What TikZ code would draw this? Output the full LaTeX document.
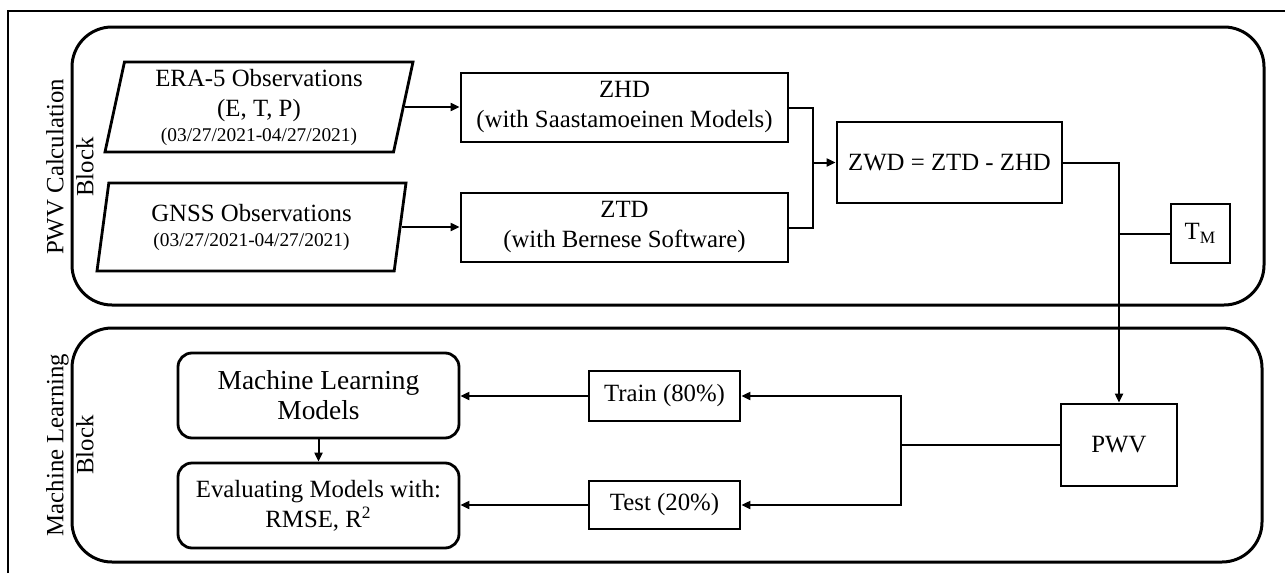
\documentclass[tikz,border=0pt]{standalone}
\usepackage{fontspec}
\setmainfont{Liberation Serif}
\usetikzlibrary{shapes.geometric,arrows.meta,positioning}
\newcommand{\datesize}{\fontsize{9.7}{12}\selectfont}
\tikzset{
    flow box/.style={
        draw,line width=1.4pt,
        fill=white,
        inner sep=0pt,align=center,
        font=\fontsize{12.4}{15}\selectfont
    },
    data box/.style={
        flow box,trapezium,
        trapezium left angle=75.7,trapezium right angle=104.3,
        trapezium stretches body
    },
    model box/.style={flow box,rounded corners=7pt},
    block/.style={draw,line width=1.5pt,rounded corners=20pt},
    block label/.style={rotate=90,align=center,font=\fontsize{12.4}{15}\selectfont},
    link/.style={line width=1pt},
    >={Triangle[length=4.5pt,width=4pt]}
}

\begin{document}
\begin{tikzpicture}[x=0.5pt,y=-0.5pt]
\useasboundingbox (0,0) rectangle (1285,573);
\draw[line width=0.7pt] (8,573) -- (8,11) -- (1285,11);
\draw[block] (72,27) rectangle (1264,305);
\draw[block] (72,328) rectangle (1262,562);
\node[block label] (pwv_label) at (70,167) {PWV Calculation\\Block};
\node[block label] (ml_label) at (70,445) {Machine Learning\\Block};
% observation inputs
\node[data box,minimum width=154pt,minimum height=45pt] (era) at (259,107)
    {ERA-5 Observations\\(E, T, P)\\[-2.5pt]{\datesize(03/27/2021-04/27/2021)}};
\node[data box,minimum width=154.5pt,minimum height=44pt] (gnss) at (251.5,227)
    {GNSS Observations\\[-2.5pt]{\datesize(03/27/2021-04/27/2021)}};
\node[flow box,minimum width=163.5pt,minimum height=34.5pt] (zhd) at (624.5,107.5)
    {ZHD\\(with Saastamoeinen Models)};
\node[flow box,minimum width=163.5pt,minimum height=34.5pt] (ztd) at (624.5,227.5)
    {ZTD\\(with Bernese Software)};
\node[flow box,minimum width=112.5pt,minimum height=40.5pt] (zwd) at (949.5,162.5)
    {ZWD = ZTD - ZHD};
\node[flow box,minimum width=29.5pt,minimum height=29.5pt] (tm) at (1200.5,233.5)
    {T\textsubscript{M}};
% learning part
\node[flow box,minimum width=58pt,minimum height=41pt] (pwv) at (1119,445) {PWV};
\node[flow box,minimum width=75.5pt,minimum height=25pt] (train) at (664.5,396) {Train (80\%)};
\node[flow box,minimum width=75.5pt,minimum height=24pt] (test) at (664.5,505) {Test (20\%)};
\node[model box,minimum width=140.5pt,minimum height=42.5pt,font=\fontsize{13.7}{15}\selectfont]
    (ml) at (318.5,395.5) {Machine Learning\\Models};
\node[model box,minimum width=140.5pt,minimum height=42.5pt] (eval) at (318.5,505.5)
    {Evaluating Models with:\\RMSE, R\textsuperscript{2}};
\coordinate (join) at (813,162.5);
\coordinate (split) at (901,445);
\draw[link,->] (era.east) -- (era.east -| zhd.west);
\draw[link,->] (gnss.east) -- (gnss.east -| ztd.west);
\draw[link] (zhd.east) -| (join) |- (ztd.east);
\draw[link,->] (join) -- (zwd.west);
\draw[link,->] (zwd.east) -| (pwv.north);
\draw[link] (tm.west) -- (tm.west -| pwv.north);
\draw[link] (pwv.west) -- (split);
\foreach \n in {train,test}
    \draw[link,->] (split) |- (\n.east);
\draw[link,->] (train.west) -- (train.west -| ml.east);
\draw[link,->] (test.west) -- (test.west -| eval.east);
\draw[link,->] (ml.south) -- (eval.north);
\end{tikzpicture}
\end{document}
